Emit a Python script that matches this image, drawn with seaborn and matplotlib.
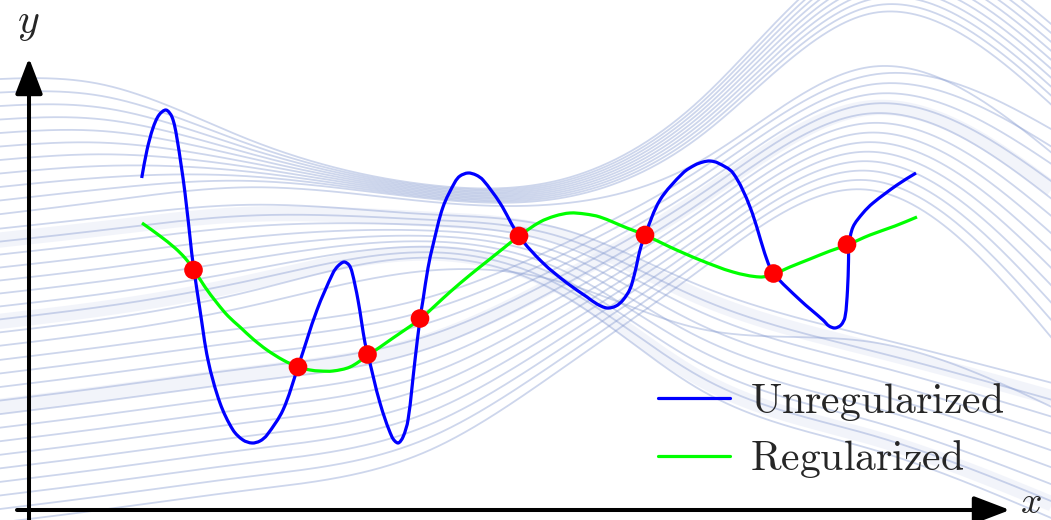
import numpy as np
import pandas as pd
import matplotlib
matplotlib.use("Agg")
import matplotlib.pyplot as plt
from matplotlib.path import Path
from matplotlib.patches import PathPatch
from matplotlib.lines import Line2D
import seaborn as sns

# ---------------- data (chart units: origin at the axes' crossing) ----------------
points_x = [1.645, 2.69, 3.385, 3.91, 4.90, 6.16, 7.445, 8.18]
points_y = [2.40, 1.43, 1.555, 1.915, 2.74, 2.75, 2.365, 2.655]

unreg_x = [1.127, 1.18, 1.24, 1.30, 1.37, 1.43, 1.477, 1.56, 1.627, 1.65, 1.71, 1.79, 1.91,
           2.04, 2.14, 2.23, 2.31, 2.38, 2.54, 2.69, 2.88, 3.04, 3.09, 3.15, 3.20, 3.23, 3.29,
           3.36, 3.39, 3.51, 3.63, 3.69, 3.74, 3.79, 3.86, 3.91, 3.94, 3.99, 4.04, 4.14, 4.26,
           4.31, 4.39, 4.47, 4.54, 4.71, 4.90, 5.14, 5.38, 5.58, 5.68, 5.78, 5.87, 5.94, 6.01,
           6.06, 6.11, 6.16, 6.31, 6.54, 6.66, 6.74, 6.81, 6.89, 7.04, 7.21, 7.38, 7.45, 7.71,
           7.94, 8.00, 8.06, 8.12, 8.16, 8.185, 8.195, 8.20, 8.24, 8.34, 8.44, 8.68, 8.87]
unreg_y = [3.32, 3.60, 3.82, 3.95, 4.00, 3.93, 3.733, 3.17, 2.57, 2.40, 2.00, 1.50, 1.07,
           0.80, 0.70, 0.67, 0.69, 0.75, 1.00, 1.43, 2.00, 2.37, 2.44, 2.48, 2.45, 2.38, 2.10,
           1.67, 1.55, 1.07, 0.73, 0.67, 0.73, 0.90, 1.50, 1.91, 2.10, 2.42, 2.65, 3.03, 3.28,
           3.34, 3.37, 3.35, 3.30, 3.07, 2.74, 2.47, 2.27, 2.13, 2.06, 2.02, 2.04, 2.10, 2.21,
           2.38, 2.60, 2.75, 3.10, 3.37, 3.45, 3.48, 3.49, 3.47, 3.37, 3.03, 2.50, 2.36, 2.10,
           1.90, 1.84, 1.82, 1.85, 1.93, 2.20, 2.48, 2.65, 2.83, 2.97, 3.07, 3.25, 3.37]

reg_x = [1.13, 1.31, 1.46, 1.56, 1.65, 1.76, 1.88, 1.99, 2.11, 2.24, 2.38, 2.54, 2.69, 2.81,
         2.91, 3.04, 3.21, 3.38, 3.64, 3.91, 4.21, 4.41, 4.61, 4.76, 4.90, 5.11, 5.26, 5.41,
         5.56, 5.71, 5.98, 6.16, 6.41, 6.71, 7.04, 7.31, 7.45, 7.61, 7.81, 8.01, 8.18, 8.41,
         8.66, 8.88]
reg_y = [2.87, 2.74, 2.62, 2.52, 2.40, 2.23, 2.07, 1.94, 1.83, 1.71, 1.60, 1.50, 1.43, 1.40,
         1.39, 1.39, 1.43, 1.54, 1.72, 1.91, 2.18, 2.35, 2.51, 2.63, 2.74, 2.88, 2.94, 2.97,
         2.96, 2.93, 2.82, 2.75, 2.63, 2.50, 2.38, 2.33, 2.36, 2.43, 2.51, 2.59, 2.65, 2.75,
         2.84, 2.93]

series_labels = [r"$\mathrm{Unregularized}$", r"$\mathrm{Regularized}$"]

# decorative background mesh: guide heights read at a few stations (per group of rows)
bg_x = [-0.49, 0.71, 2.21, 4.01, 5.31, 6.71, 8.41, 10.41]
bg_t = [0.0, 0.30, 0.32, 0.60, 0.62, 1.0]
bg_rows = [
    [4.30, 4.26, 3.70, 3.25, 3.30, 4.10, 5.60, 4.70],
    [2.95, 3.10, 3.25, 3.10, 3.10, 3.70, 4.90, 3.80],
    [2.85, 2.98, 3.10, 2.98, 2.85, 2.30, 1.80, 1.30],
    [1.65, 1.80, 2.10, 2.48, 2.10, 1.10, 0.50, -0.30],
    [1.55, 1.70, 1.90, 2.20, 2.70, 3.45, 4.40, 3.80],
    [-0.15, 0.00, 0.20, 0.60, 1.40, 2.40, 3.20, 1.50],
]
bg_glow_t = [0.36, 0.55, 0.74]
n_bg = 34


def nat_spline(xk, yk, xs):
    xk = np.asarray(xk, float); yk = np.asarray(yk, float)
    n = len(xk); h = np.diff(xk)
    A = np.zeros((n, n)); r = np.zeros(n)
    A[0, 0] = A[-1, -1] = 1
    for i in range(1, n - 1):
        A[i, i - 1] = h[i - 1]; A[i, i] = 2 * (h[i - 1] + h[i]); A[i, i + 1] = h[i]
        r[i] = 3 * ((yk[i + 1] - yk[i]) / h[i] - (yk[i] - yk[i - 1]) / h[i - 1])
    c = np.linalg.solve(A, r)
    b = (yk[1:] - yk[:-1]) / h - h * (2 * c[:-1] + c[1:]) / 3
    d = (c[1:] - c[:-1]) / (3 * h)
    idx = np.clip(np.searchsorted(xk, xs) - 1, 0, n - 2)
    dx = xs - xk[idx]
    return yk[idx] + b[idx] * dx + c[idx] * dx ** 2 + d[idx] * dx ** 3


def smooth_path(xv, yv):
    """Bezier path through the read points (chord-length Catmull-Rom tangents)."""
    P = np.column_stack([xv, yv]).astype(float)
    n = len(P)
    t = np.concatenate([[0], np.cumsum(np.hypot(*np.diff(P, axis=0).T))])
    m = np.zeros_like(P)
    m[0] = (P[1] - P[0]) / (t[1] - t[0])
    m[-1] = (P[-1] - P[-2]) / (t[-1] - t[-2])
    for i in range(1, n - 1):
        m[i] = (P[i + 1] - P[i - 1]) / (t[i + 1] - t[i - 1])
    verts = [P[0]]
    codes = [Path.MOVETO]
    for i in range(n - 1):
        dt = t[i + 1] - t[i]
        verts += [P[i] + m[i] * dt / 3, P[i + 1] - m[i + 1] * dt / 3, P[i + 1]]
        codes += [Path.CURVE4] * 3
    return Path(verts, codes)


# ---------------- figure ----------------
sns.set_style("white")
plt.rcParams["mathtext.fontset"] = "cm"

fig = plt.figure(figsize=(10.51, 5.20), dpi=100)
ax = fig.add_axes([0, 0, 1, 1])
ax.set_xlim(-0.29, 10.22)
ax.set_ylim(-0.10, 5.10)
ax.set_axis_off()

# background mesh
rows = np.array(bg_rows)
xs = np.linspace(bg_x[0], bg_x[-1], 700)


def bg_row(t):
    ys_k = [np.interp(t, bg_t, rows[:, j]) for j in range(len(bg_x))]
    return nat_spline(bg_x, ys_k, xs)


for t in bg_glow_t:
    ax.plot(xs, bg_row(t), color="#e6eaf7", alpha=0.5, lw=11, zorder=0.5,
            solid_capstyle="butt")
for k in range(n_bg):
    ax.plot(xs, bg_row(k / (n_bg - 1)), color="#8499d0", alpha=0.40, lw=1.3,
            zorder=1, solid_capstyle="butt")

# curves
blue, green = "#0000ff", "#00ff00"
df_u = pd.DataFrame({"x": unreg_x, "y": unreg_y})
df_r = pd.DataFrame({"x": reg_x, "y": reg_y})
for df, col, z in [(df_u, blue, 3), (df_r, green, 4)]:
    ax.add_patch(PathPatch(smooth_path(df["x"], df["y"]), fill=False, edgecolor=col,
                           lw=2.3, zorder=z, capstyle="butt", joinstyle="round"))
sns.scatterplot(x=points_x, y=points_y, ax=ax, color="#ff0000", s=180,
                edgecolor="none", zorder=5, legend=False)
ax.set_xlim(-0.29, 10.22)
ax.set_ylim(-0.10, 5.10)

# axes arrows
arrow = dict(arrowstyle="-|>,head_length=1.1,head_width=0.42", lw=2.9, color="black",
             mutation_scale=20, shrinkA=0, shrinkB=0)
ax.annotate("", xy=(0, 4.52), xytext=(0, -0.12), arrowprops=arrow, zorder=6)
ax.annotate("", xy=(9.81, 0), xytext=(-0.12, 0), arrowprops=arrow, zorder=6)
ax.text(-0.01, 4.88, r"$y$", fontsize=30, ha="center", va="center")
ax.text(10.02, -0.03, r"$x$", fontsize=27, ha="center", va="baseline")

handles = [Line2D([], [], color=blue, lw=2.3), Line2D([], [], color=green, lw=2.3)]
ax.legend(handles, series_labels, loc="center left", bbox_to_anchor=(6.29, 0.80),
          bbox_transform=ax.transData, frameon=False, fontsize=30, handlelength=1.73,
          handletextpad=0.48, borderpad=0, borderaxespad=0, labelspacing=0.35)

fig.savefig("out.png", dpi=100)
